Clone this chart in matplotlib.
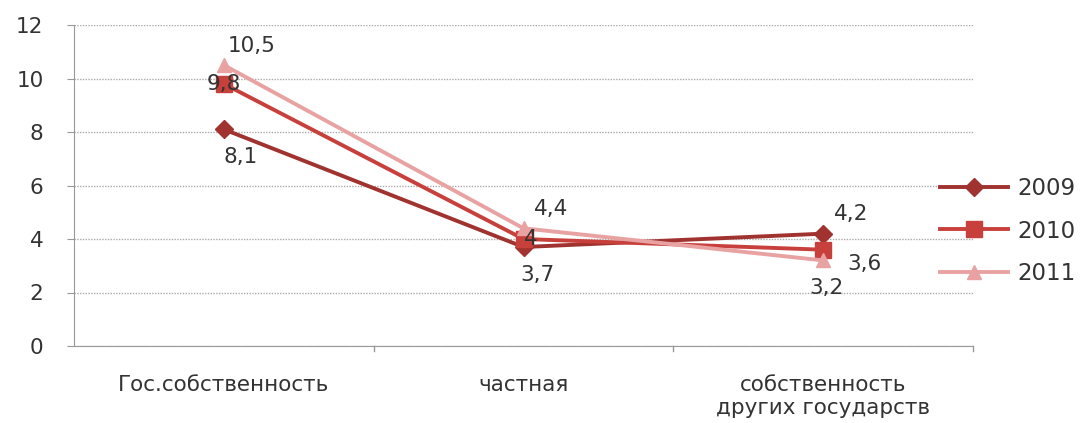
import matplotlib
matplotlib.use("Agg")
import matplotlib.pyplot as plt
from matplotlib.lines import Line2D

categories = ["Гос.собственность", "частная", "собственность\nдругих государств"]
years = ["2009", "2010", "2011"]
v2009 = [8.1, 3.7, 4.2]
v2010 = [9.8, 4.0, 3.6]
v2011 = [10.5, 4.4, 3.2]
yticks = [0, 2, 4, 6, 8, 10, 12]

series = [v2009, v2010, v2011]
colors = ["#A0322F", "#C8403C", "#E8A2A2"]
markers = ["D", "s", "^"]
msizes = [9, 11, 10]
# label offsets (points) per series per category
offsets = [
    [(12, -20), (10, -20), (20, 14)],
    [(0, 0), (5, 0), (30, -10)],
    [(20, 14), (20, 14), (2, -20)],
]

fig = plt.figure(figsize=(10.83, 4.23), dpi=100)
ax = fig.add_axes([74/1083, 1-346/423, (973-74)/1083, (346-25)/423])

x = [0, 1, 2]
for vals, c, m, ms in zip(series, colors, markers, msizes):
    ax.plot(x, vals, color=c, lw=2.8, marker=m, ms=ms, mec=c, mfc=c, zorder=3)

for vals, offs in zip(series, offsets):
    for xi, v, (dx, dy) in zip(x, vals, offs):
        ax.annotate(f"{v:g}".replace(".", ","), (xi, v), xytext=(dx, dy),
                    textcoords="offset points", ha="center", va="center",
                    fontsize=15.5, color="#333333", zorder=5)

ax.set_xlim(-0.5, 2.5)
ax.set_ylim(0, 12)
ax.set_yticks(yticks)
ax.set_yticklabels([str(t) for t in yticks], fontsize=15.5, color="#333333")
ax.set_xticks(x)
ax.set_xticklabels(categories, fontsize=15.5, color="#333333", linespacing=1.15)
ax.tick_params(axis="x", length=0, pad=21)
ax.tick_params(axis="y", length=5, color="#999999", pad=17, direction="out")
ax.yaxis.grid(True, color="#aaaaaa", lw=1, ls=(0, (1, 1)))
ax.set_axisbelow(True)
for s in ["top", "right"]:
    ax.spines[s].set_visible(False)
for s in ["left", "bottom"]:
    ax.spines[s].set_color("#999999")
# category boundary ticks
for b in [0.5, 1.5, 2.5]:
    ax.plot([b, b], [0, -0.2], color="#999999", lw=1, clip_on=False)

handles = [Line2D([0], [0], color=c, lw=2.8, marker=m, ms=ms, mec=c, mfc=c)
           for c, m, ms in zip(colors, markers, msizes)]
leg = fig.legend(handles, years, loc="center left", bbox_to_anchor=(919/1083, 1-231/423),
                 frameon=False, fontsize=16.5, handlelength=3.0, labelspacing=0.85,
                 handletextpad=0.4)
for t in leg.get_texts():
    t.set_color("#333333")

fig.savefig("out.png", dpi=100)
